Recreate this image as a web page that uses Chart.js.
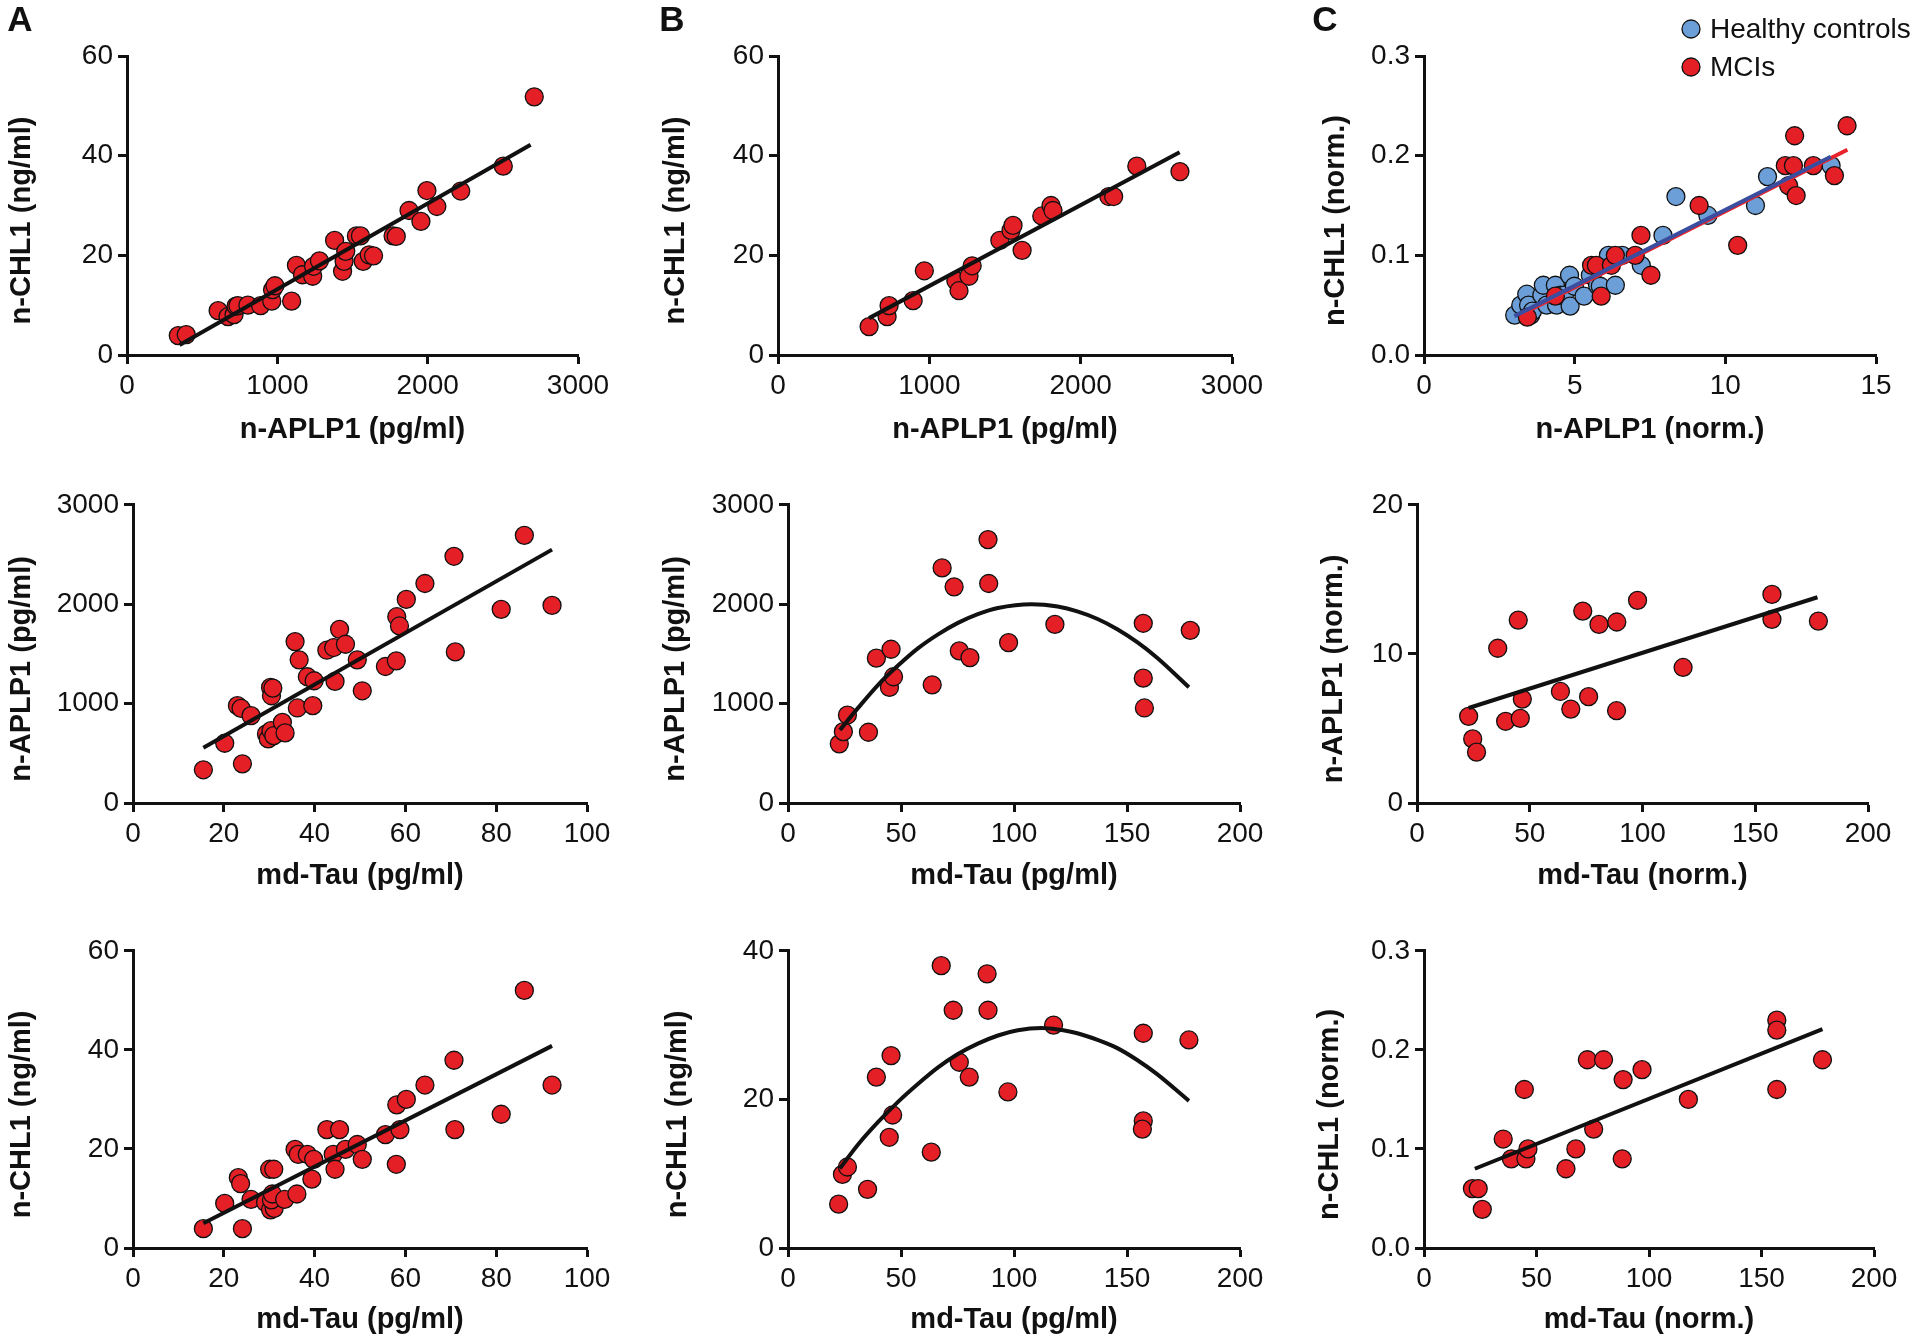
<!DOCTYPE html>
<html>
<head>
<meta charset="utf-8">
<title>n-APLP1, n-CHL1 and md-Tau correlations</title>
<script src="https://cdn.jsdelivr.net/npm/chart.js@4.4.1/dist/chart.umd.min.js"></script>
<style>
  html, body { margin: 0; padding: 0; background: #fff; }
  #fig { position: relative; width: 1920px; height: 1342px; background: #fff; overflow: hidden; }
  #fig canvas { position: absolute; }
</style>
</head>
<body>
<div id="fig"></div>
<script>
// ─── DATA ─────────────────────────────────────────────────────
// A, top: n-APLP1 (pg/ml) vs n-CHL1 (ng/ml)
const a1X = [341, 394, 606, 672, 712, 725, 738, 804, 889, 963, 968, 984, 1095, 1127, 1167, 1235, 1241, 1280, 1381, 1434, 1444, 1455, 1526, 1553, 1571, 1611, 1640, 1770, 1791, 1876, 1955, 1995, 2061, 2220, 2503, 2709];
const a1Y = [3.9, 4.1, 8.9, 7.7, 8.1, 9.8, 9.9, 10, 9.9, 10.8, 13.1, 13.9, 10.8, 18, 16.1, 15.8, 17.8, 18.9, 23, 16.8, 18.8, 20.8, 23.9, 23.9, 18.8, 20.1, 19.9, 23.9, 23.8, 29, 26.8, 33, 29.8, 32.9, 37.9, 51.8];
const a1FitX = [350, 2685];
const a1FitY = [2.0, 42.2];

// B, top
const b1X = [602, 721, 734, 893, 967, 1175, 1196, 1262, 1283, 1466, 1540, 1553, 1613, 1743, 1804, 1817, 2186, 2218, 2371, 2656];
const b1Y = [5.7, 7.7, 9.9, 10.9, 16.9, 14.9, 12.9, 15.8, 17.9, 23, 25, 26, 21, 27.9, 30, 29, 31.8, 31.8, 37.9, 36.8];
const b1FitX = [602, 2654];
const b1FitY = [7.4, 40.7];

// C, top: normalised, two groups
const hcX = [3.01, 3.21, 3.41, 3.47, 3.54, 3.6, 3.91, 3.96, 4.07, 4.36, 4.4, 4.53, 4.66, 4.83, 4.85, 4.99, 5.31, 5.52, 5.76, 5.85, 6.12, 6.35, 6.58, 7.21, 7.93, 8.36, 9.42, 11.0, 11.4, 13.51];
const hcY = [0.04, 0.05, 0.061, 0.05, 0.04, 0.044, 0.06, 0.07, 0.05, 0.07, 0.05, 0.06, 0.06, 0.08, 0.049, 0.069, 0.059, 0.08, 0.07, 0.069, 0.1, 0.07, 0.1, 0.09, 0.12, 0.159, 0.14, 0.15, 0.179, 0.19];
const mciX = [3.43, 4.36, 5.56, 5.72, 5.88, 6.22, 6.35, 7.01, 7.2, 7.53, 9.13, 10.41, 11.99, 12.26, 12.3, 12.1, 12.35, 12.92, 13.62, 14.04];
const mciY = [0.038, 0.059, 0.09, 0.09, 0.059, 0.09, 0.1, 0.1, 0.12, 0.08, 0.15, 0.11, 0.19, 0.19, 0.22, 0.17, 0.16, 0.19, 0.18, 0.23];
const hcFitX = [3.0, 13.5];
const hcFitY = [0.039, 0.199];
const mciFitX = [3.3, 14.05];
const mciFitY = [0.042, 0.206];

// A, middle: md-Tau (pg/ml) vs n-APLP1 (pg/ml)
const a2X = [15.5, 20.2, 23.0, 23.8, 24.1, 26.0, 29.4, 29.8, 30.3, 30.5, 30.8, 30.4, 31.0, 32.9, 33.5, 35.7, 36.2, 36.6, 38.4, 39.6, 39.9, 42.7, 44.2, 44.5, 45.5, 46.8, 49.4, 50.5, 55.6, 58.0, 58.1, 58.7, 60.2, 64.3, 70.7, 71.0, 81.1, 86.2, 92.3];
const a2Y = [334, 601, 979, 952, 394, 879, 695, 645, 1163, 1079, 1156, 728, 678, 812, 705, 1624, 956, 1440, 1270, 979, 1230, 1537, 1564, 1223, 1747, 1597, 1440, 1129, 1373, 1430, 1874, 1781, 2048, 2208, 2482, 1520, 1948, 2693, 1988];
const a2FitX = [15.5, 92.3];
const a2FitY = [555, 2549];

// B, middle (curve read at several points)
const b2X = [22.7, 24.5, 26.3, 35.6, 39.1, 44.9, 45.6, 46.7, 63.8, 68.2, 73.5, 75.8, 80.5, 88.5, 88.8, 97.6, 118.1, 157.2, 157.2, 157.7, 178];
const b2Y = [595, 718, 885, 712, 1457, 1163, 1547, 1270, 1189, 2365, 2175, 1530, 1463, 2650, 2208, 1614, 1797, 1808, 1256, 956, 1737];
const b2CurveX = [23, 31.2, 40, 48.8, 57.6, 66.4, 75.2, 84, 92.9, 107.8, 119.3, 128, 137, 145.7, 154.5, 163.3, 177.4];
const b2CurveY = [735, 962, 1192, 1385, 1558, 1697, 1812, 1900, 1962, 2000, 1976, 1928, 1851, 1748, 1618, 1462, 1165];

// C, middle
const c2X = [22.9, 24.7, 26.4, 35.8, 39.3, 44.9, 45.8, 46.7, 63.6, 68.2, 73.5, 76.1, 80.7, 88.6, 88.5, 97.8, 118, 157.4, 157.4, 178];
const c2Y = [5.81, 4.3, 3.41, 10.38, 5.48, 12.27, 5.68, 6.97, 7.48, 6.3, 12.87, 7.13, 11.98, 12.14, 6.19, 13.59, 9.09, 13.99, 12.32, 12.2];
const c2FitX = [22.9, 177.6];
const c2FitY = [6.37, 13.8];

// A, bottom: md-Tau (pg/ml) vs n-CHL1 (ng/ml)
const a3X = [15.5, 20.2, 23.2, 23.7, 24.1, 26.0, 29.2, 30.1, 31.0, 30.3, 31.1, 30.5, 30.7, 33.4, 36.1, 35.7, 36.4, 38.4, 39.8, 39.4, 42.7, 44.1, 44.5, 45.5, 46.8, 49.4, 50.5, 55.6, 58.0, 58.1, 58.8, 60.2, 64.3, 70.7, 70.9, 81.1, 86.2, 92.3];
const a3Y = [3.9, 9.0, 14.2, 13.0, 3.9, 9.8, 9.2, 15.9, 15.9, 7.7, 8.0, 9.7, 10.9, 9.8, 10.9, 19.9, 18.9, 18.9, 17.9, 13.9, 23.9, 18.9, 15.9, 23.9, 19.9, 20.9, 17.9, 22.9, 16.9, 28.9, 23.9, 30.0, 32.9, 37.9, 23.9, 27.0, 52.0, 32.9];
const a3FitX = [15.5, 92.3];
const a3FitY = [5.0, 40.8];

// B, bottom
const b3X = [22.4, 24.1, 26.3, 35.2, 39.1, 44.8, 45.6, 46.3, 63.4, 67.8, 73.1, 75.8, 80.2, 88.1, 88.5, 97.3, 117.5, 157.2, 157.2, 156.8, 177.4];
const b3Y = [5.9, 9.9, 10.9, 7.9, 23.0, 14.9, 25.9, 17.9, 12.9, 38.0, 32.0, 25.0, 23.0, 36.9, 32.0, 21.0, 30.0, 28.9, 17.1, 16.0, 28.0];
const b3CurveX = [22.9, 31.2, 40, 48.8, 57.6, 66.4, 75.2, 84, 92.9, 101.7, 112.2, 119.3, 128, 137, 145.7, 154.5, 163.3, 177.4];
const b3CurveY = [10.7, 14.0, 17.0, 19.7, 22.1, 24.3, 26.1, 27.5, 28.6, 29.3, 29.6, 29.4, 28.9, 28.0, 26.9, 25.3, 23.4, 19.8];

// C, bottom
const c3X = [21.5, 24.1, 25.9, 35.2, 38.8, 44.6, 45.3, 46.2, 63.1, 67.5, 72.6, 75.4, 79.8, 88.5, 88.1, 96.9, 117.5, 156.8, 156.8, 156.8, 177.1];
const c3Y = [0.06, 0.06, 0.039, 0.11, 0.09, 0.16, 0.09, 0.1, 0.08, 0.1, 0.19, 0.12, 0.19, 0.17, 0.09, 0.18, 0.15, 0.23, 0.22, 0.16, 0.19];
const c3FitX = [22.6, 177.1];
const c3FitY = [0.08, 0.221];

// ─── STYLE ──────────────────────────────────────────────────────
const INK = "#111111";
const RED = "#e41f26";
const BLUE = "#6c9fd8";
const FAMILY = '"Liberation Sans", Arial, Helvetica, sans-serif';
const TICK_FONT = { family: FAMILY, size: 28 };
const TITLE_FONT = { family: FAMILY, size: 29, weight: "bold" };
const TITLE_LH = 29 * 1.2;

const pts = (xs, ys) => xs.map((x, i) => ({ x, y: ys[i] }));

function scatterSet(label, xs, ys, color) {
  return {
    type: "scatter", label, data: pts(xs, ys),
    backgroundColor: color, borderColor: INK, borderWidth: 1.3,
    pointRadius: 9, pointHoverRadius: 9, clip: false,
  };
}
function fitSet(xs, ys, color, curved) {
  return {
    type: "line", label: "fit", data: pts(xs, ys),
    borderColor: color || INK, borderWidth: 4, pointRadius: 0,
    fill: false, clip: false,
    cubicInterpolationMode: curved ? "monotone" : "default", tension: 0,
  };
}

const P_APLP_NG = "n-APLP1 (pg/ml)";
const P_CHL_NG = "n-CHL1 (ng/ml)";
const TAU_PG = "md-Tau (pg/ml)";
const fmt1 = (v) => v.toFixed(1);

// box = [axis left, axis top, axis right, axis bottom] in page pixels
const panels = [
  { letter: "A", letterX: 20, box: [127, 56, 578, 355], titleX: 22, titleY: 430, padTop: 56,
    xMax: 3000, xStep: 1000, yMax: 60, yStep: 20, xTitle: P_APLP_NG, yTitle: P_CHL_NG,
    datasets: [fitSet(a1FitX, a1FitY), scatterSet("MCIs", a1X, a1Y, RED)] },
  { letter: "B", letterX: 672, box: [778, 56, 1232, 355], titleX: 676, titleY: 430, padTop: 56, padLeft: 20,
    xMax: 3000, xStep: 1000, yMax: 60, yStep: 20, xTitle: P_APLP_NG, yTitle: P_CHL_NG,
    datasets: [fitSet(b1FitX, b1FitY), scatterSet("MCIs", b1X, b1Y, RED)] },
  { letter: "C", letterX: 1325, box: [1424, 56, 1876, 355], titleX: 1336, titleY: 430, padTop: 56, padRight: 44, padLeft: 25,
    xMax: 15, xStep: 5, yMax: 0.3, yStep: 0.1, yFmt: fmt1, xTitle: "n-APLP1 (norm.)", yTitle: "n-CHL1 (norm.)",
    legend: { x: 1691, y: 29, gap: 38, textGap: 19 },
    datasets: [fitSet(hcFitX, hcFitY, "#3b4d9e"), fitSet(mciFitX, mciFitY, "#e8232b"),
               scatterSet("MCIs", mciX, mciY, RED), scatterSet("Healthy controls", hcX, hcY, BLUE)] },

  { box: [133, 503, 587, 803], titleX: 22, titleY: 876,
    xMax: 100, xStep: 20, yMax: 3000, yStep: 1000, xTitle: TAU_PG, yTitle: P_APLP_NG,
    datasets: [fitSet(a2FitX, a2FitY), scatterSet("MCIs", a2X, a2Y, RED)] },
  { box: [788, 503, 1240, 803], titleX: 676, titleY: 876,
    xMax: 200, xStep: 50, yMax: 3000, yStep: 1000, xTitle: TAU_PG, yTitle: P_APLP_NG,
    datasets: [fitSet(b2CurveX, b2CurveY, INK, true), scatterSet("MCIs", b2X, b2Y, RED)] },
  { box: [1417, 503, 1868, 803], titleX: 1334, titleY: 876,
    xMax: 200, xStep: 50, yMax: 20, yStep: 10, xTitle: "md-Tau (norm.)", yTitle: "n-APLP1 (norm.)",
    datasets: [fitSet(c2FitX, c2FitY), scatterSet("MCIs", c2X, c2Y, RED)] },

  { box: [133, 949, 587, 1248], titleX: 22, titleY: 1320,
    xMax: 100, xStep: 20, yMax: 60, yStep: 20, xTitle: TAU_PG, yTitle: P_CHL_NG,
    datasets: [fitSet(a3FitX, a3FitY), scatterSet("MCIs", a3X, a3Y, RED)] },
  { box: [788, 949, 1240, 1248], titleX: 678, titleY: 1320,
    xMax: 200, xStep: 50, yMax: 40, yStep: 20, xTitle: TAU_PG, yTitle: P_CHL_NG,
    datasets: [fitSet(b3CurveX, b3CurveY, INK, true), scatterSet("MCIs", b3X, b3Y, RED)] },
  { box: [1424, 949, 1874, 1248], titleX: 1330, titleY: 1320,
    xMax: 200, xStep: 50, yMax: 0.3, yStep: 0.1, yFmt: fmt1, xTitle: "md-Tau (norm.)", yTitle: "n-CHL1 (norm.)",
    datasets: [fitSet(c3FitX, c3FitY), scatterSet("MCIs", c3X, c3Y, RED)] },
];

// ─── PLUGINS ────────────────────────────────────────────────────
// panel letter (A, B, C) in the top-left corner of the top row
const letterPlugin = {
  id: "panelLetter",
  afterDraw(chart, args, opts) {
    if (!opts.text) return;
    const ctx = chart.ctx;
    ctx.save();
    ctx.font = "bold 35px " + FAMILY;
    ctx.fillStyle = INK;
    ctx.textAlign = "center";
    ctx.textBaseline = "middle";
    ctx.fillText(opts.text, opts.x, opts.y);
    ctx.restore();
  },
};

// rotated y title, sitting a little below the axis middle as in the figure
const yTitlePlugin = {
  id: "yTitle",
  afterDraw(chart, args, opts) {
    if (!opts.text) return;
    const ctx = chart.ctx;
    const area = chart.chartArea;
    ctx.save();
    ctx.translate(opts.x, (area.top + area.bottom) / 2 + opts.shift);
    ctx.rotate(-Math.PI / 2);
    ctx.font = "bold 29px " + FAMILY;
    ctx.fillStyle = INK;
    ctx.textAlign = "center";
    ctx.textBaseline = "middle";
    ctx.fillText(opts.text, 0, 0);
    ctx.restore();
  },
};

// two-row dot legend, built from the scatter datasets
const dotLegend = {
  id: "dotLegend",
  afterDraw(chart, args, opts) {
    if (opts.x === undefined) return;
    const ctx = chart.ctx;
    const items = chart.data.datasets.filter((d) => d.type === "scatter").reverse();
    ctx.save();
    ctx.font = "28px " + FAMILY;
    ctx.textBaseline = "middle";
    items.forEach((d, i) => {
      const y = opts.y + i * opts.gap;
      ctx.beginPath();
      ctx.arc(opts.x, y, 9, 0, Math.PI * 2);
      ctx.fillStyle = d.backgroundColor;
      ctx.fill();
      ctx.lineWidth = 1.3;
      ctx.strokeStyle = INK;
      ctx.stroke();
      ctx.fillStyle = INK;
      ctx.fillText(d.label, opts.x + opts.textGap, y + 1);
    });
    ctx.restore();
  },
};

// ─── BUILD CHARTS ───────────────────────────────────────────────
const fig = document.getElementById("fig");

function makeChart(p) {
  const padTop = p.padTop || 20;
  const padRight = p.padRight || 45;
  const left = Math.round(p.titleX - TITLE_LH / 2) - (p.padLeft || 0);
  const top = p.box[1] - padTop;
  const yW = p.box[0] - left;
  const xH = Math.round(p.titleY + TITLE_LH / 2 - p.box[3]);
  const w = p.box[2] - left + padRight;
  const h = padTop + (p.box[3] - p.box[1]) + xH;

  const canvas = document.createElement("canvas");
  canvas.width = w;
  canvas.height = h;
  canvas.style.left = left + "px";
  canvas.style.top = top + "px";
  canvas.style.width = w + "px";
  canvas.style.height = h + "px";
  fig.appendChild(canvas);

  const axis = (max, step, fmt, title, isX) => ({
    type: "linear", min: 0, max,
    ticks: {
      stepSize: step, color: INK, font: TICK_FONT, padding: 5,
      autoSkip: false, maxRotation: 0,
      callback: (v) => (fmt ? fmt(v) : String(Math.round(v))),
    },
    grid: { drawOnChartArea: false, drawTicks: true, tickLength: 9, tickWidth: 3, tickColor: INK },
    border: { display: true, color: INK, width: 3 },
    title: { display: isX, text: title, color: INK, font: TITLE_FONT, padding: 0 },
    afterFit: (s) => { if (isX) s.height = xH; else s.width = yW; },
  });

  return new Chart(canvas, {
    type: "scatter",
    data: { datasets: p.datasets },
    options: {
      responsive: false,
      animation: false,
      devicePixelRatio: 1,
      layout: { padding: { top: padTop, right: padRight, left: 0, bottom: 0 } },
      plugins: {
        legend: { display: false },
        tooltip: { enabled: false },
        panelLetter: p.letter ? { text: p.letter, x: p.letterX - left, y: 21 - top } : {},
        yTitle: { text: p.yTitle, x: p.titleX - left, shift: 15 },
        dotLegend: p.legend ? { x: p.legend.x - left, y: p.legend.y - top, gap: p.legend.gap, textGap: p.legend.textGap } : {},
      },
      scales: {
        x: axis(p.xMax, p.xStep, p.xFmt, p.xTitle, true),
        y: axis(p.yMax, p.yStep, p.yFmt, p.yTitle, false),
      },
    },
    plugins: [letterPlugin, yTitlePlugin, dotLegend],
  });
}

panels.forEach(makeChart);
</script>
</body>
</html>
